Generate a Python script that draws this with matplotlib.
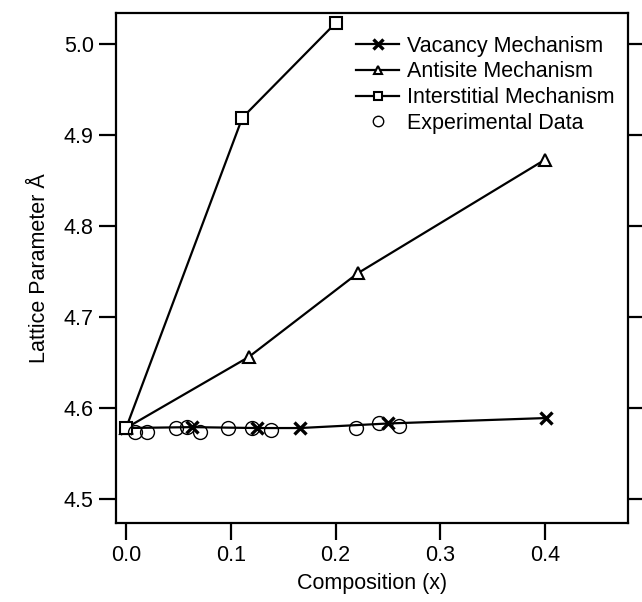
import matplotlib
matplotlib.use("Agg")
import matplotlib.pyplot as plt

plt.rcParams["font.family"] = ["Liberation Sans", "DejaVu Sans"]

# ---- data -------------------------------------------------------------
vac_x = [0.0, 0.063, 0.125, 0.166, 0.250, 0.401]
vac_y = [4.578, 4.579, 4.578, 4.578, 4.583, 4.589]

anti_x = [0.0, 0.117, 0.221, 0.400]
anti_y = [4.578, 4.656, 4.748, 4.873]

inter_x = [0.0, 0.111, 0.200]
inter_y = [4.578, 4.919, 5.023]

exp_x = [0.009, 0.020, 0.048, 0.058, 0.071, 0.097, 0.120, 0.138, 0.219, 0.241, 0.260]
exp_y = [4.574, 4.574, 4.578, 4.579, 4.574, 4.578, 4.578, 4.576, 4.578, 4.583, 4.580]

xticks = [0.0, 0.1, 0.2, 0.3, 0.4]
yticks = [4.5, 4.6, 4.7, 4.8, 4.9, 5.0]

fig = plt.figure(figsize=(6.42, 6.02), dpi=100)
ax = fig.add_axes([116 / 642, 1 - 522.7 / 602, (628 - 116) / 642, (522.7 - 13) / 602])

ax.plot(vac_x, vac_y, color="black", lw=1.6, marker="x", ms=9, mew=2.4,
        label="Vacancy Mechanism")
ax.plot(anti_x, anti_y, color="black", lw=1.6, marker="^", ms=8.5, mew=1.5,
        mfc="white", label="Antisite Mechanism")
ax.plot(inter_x, inter_y, color="black", lw=1.6, marker="s", ms=8.5, mew=1.5,
        mfc="white", label="Interstitial Mechanism")
ax.plot(exp_x, exp_y, ls="none", marker="o", ms=10, mew=1.0, mfc="none",
        mec="black", label="Experimental Data")

ax.set_xlim(-0.0096, 0.479)
ax.set_ylim(4.474, 5.034)
ax.set_xticks(xticks)
ax.set_yticks(yticks)
ax.set_xticklabels([f"{v:.1f}" for v in xticks])
ax.set_yticklabels([f"{v:.1f}" for v in yticks])

for s in ax.spines.values():
    s.set_linewidth(1.6)
ax.tick_params(axis="both", direction="out", length=12, width=1.6,
               labelsize=15.5, pad=4)
ax.tick_params(axis="y", right=True)

ax.set_xlabel("Composition (x)", fontsize=15.5, labelpad=5)
ax.set_ylabel("Lattice Parameter Å", fontsize=15.5, labelpad=10)

ax.legend(loc="upper right", bbox_to_anchor=(1.003, 0.985), frameon=False,
          fontsize=15.5, handlelength=2.0, handletextpad=0.35,
          labelspacing=0.22, borderaxespad=0.3, markerscale=0.75)

fig.savefig("out.png", dpi=100)
